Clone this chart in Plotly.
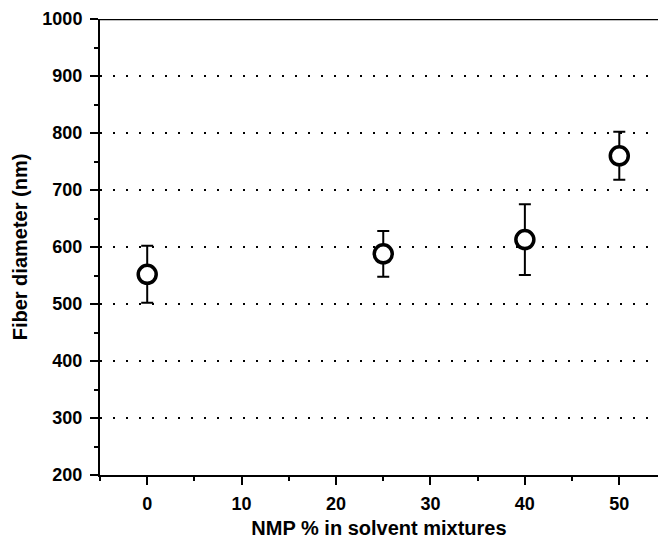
import plotly.graph_objects as go

# Data
nmp_percent = [0, 25, 40, 50]
fiber_diameter = [552, 588, 613, 760]
diameter_sd = [50, 40, 62, 42]

x_range = [-5, 54.1]
y_range = [200, 1000]

font_family = "Arial, Liberation Sans, sans-serif"

fig = go.Figure()
fig.add_trace(go.Scatter(
    x=nmp_percent, y=fiber_diameter, mode="markers",
    marker=dict(symbol="circle", size=18, color="white",
                line=dict(color="black", width=3.5)),
    error_y=dict(type="data", array=diameter_sd, visible=True,
                 color="black", thickness=2, width=6),
    showlegend=False,
))

# solid top line at the upper bound of y
fig.add_shape(type="line", xref="paper", yref="y", x0=0, x1=1,
              y0=y_range[1], y1=y_range[1],
              line=dict(color="black", width=2.5))

fig.update_layout(
    width=658, height=539,
    margin=dict(l=100, r=0, t=19, b=64),
    plot_bgcolor="white", paper_bgcolor="white",
    font=dict(family=font_family, color="black"),
)
fig.update_xaxes(
    range=x_range, tick0=0, dtick=10, ticks="outside", ticklen=8,
    tickwidth=2, tickcolor="black", showline=True, linewidth=2,
    linecolor="black", showgrid=False, zeroline=False, automargin=False,
    tickfont=dict(size=18, weight="bold"), ticklabelstandoff=3,
    minor=dict(dtick=5, tick0=0, ticks="outside", ticklen=4, tickwidth=2,
               tickcolor="black", showgrid=False),
    title=dict(text="NMP % in solvent mixtures",
               font=dict(size=20, weight="bold"), standoff=13),
)
fig.update_yaxes(
    range=y_range, tick0=0, dtick=100, ticks="outside", ticklen=8,
    tickwidth=2, tickcolor="black", showline=True, linewidth=2,
    linecolor="black", showgrid=True, gridcolor="black", gridwidth=2,
    griddash="2px,11px", zeroline=False, automargin=False,
    tickfont=dict(size=18, weight="bold"), ticklabelstandoff=4,
    minor=dict(dtick=50, tick0=0, ticks="outside", ticklen=4, tickwidth=2,
               tickcolor="black", showgrid=False),
    title=dict(text="Fiber diameter (nm)",
               font=dict(size=20, weight="bold"), standoff=9),
)

fig.write_html("out.html")
